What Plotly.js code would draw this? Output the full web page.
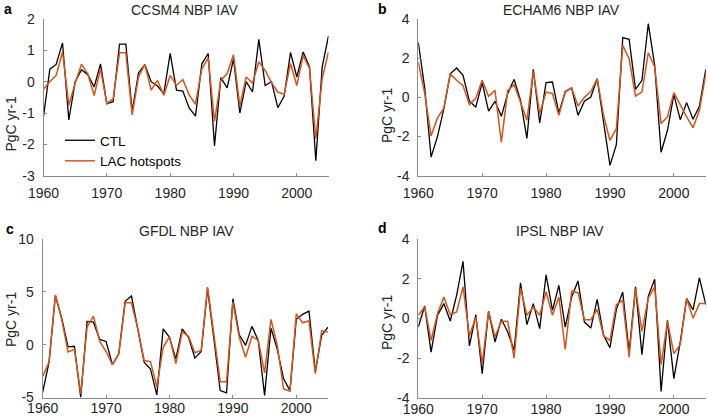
<!DOCTYPE html>
<html><head><meta charset="utf-8">
<script src="https://cdn.plot.ly/plotly-3.0.1.min.js"></script>
<style>html,body{margin:0;padding:0;background:#fff}#chart{width:708px;height:419px}</style>
</head><body><div id="chart"></div>
<script>
const years = [1960,1961,1962,1963,1964,1965,1966,1967,1968,1969,
  1970,1971,1972,1973,1974,1975,1976,1977,1978,1979,
  1980,1981,1982,1983,1984,1985,1986,1987,1988,1989,
  1990,1991,1992,1993,1994,1995,1996,1997,1998,1999,
  2000,2001,2002,2003,2004,2005];

const ccsm4CTL = [-1.12,0.4,0.55,1.24,-1.22,0.0,0.38,0.22,-0.17,0.57,
  -0.7,-0.64,1.2,1.2,-0.95,0.28,0.54,0.0,-0.14,-0.38,
  0.9,-0.27,-0.3,-0.84,-1.1,0.57,0.9,-2.05,0.13,-0.2,
  0.73,-1.0,0.0,-0.33,1.35,-0.12,0.0,-0.83,-0.46,0.93,
  0.15,0.95,0.47,-2.52,0.47,1.46];
const ccsm4LAC = [-0.24,0.0,0.2,0.95,-0.75,-0.05,0.56,0.24,-0.44,0.4,
  -0.7,-0.54,0.92,0.92,-1.06,0.15,0.55,-0.27,0.04,-0.43,
  0.2,-0.12,0.07,-0.42,-0.72,0.41,0.76,-1.27,0.04,0.26,
  0.86,-0.78,0.15,-0.04,0.63,0.36,-0.03,-0.33,-0.4,0.58,
  -0.12,0.84,0.42,-1.82,0.1,0.95];

const echamCTL = [2.8,0.5,-3.05,-2.0,-0.58,1.2,1.5,1.12,-0.2,-0.49,
  0.75,-0.7,-0.2,-0.97,0.2,0.92,-0.15,-2.1,1.43,-1.3,
  0.75,0.78,-0.8,0.3,0.48,-0.92,-0.2,0.02,0.95,-1.34,
  -3.47,-2.42,3.05,2.96,0.41,0.87,3.76,1.63,-2.8,-1.68,
  0.14,-1.14,-0.27,-1.12,-0.46,1.43];
const echamLAC = [1.8,0.2,-1.97,-1.05,-0.55,1.2,0.87,0.6,-0.37,-0.05,
  0.87,0.05,0.36,-2.3,0.35,0.65,-0.25,-1.17,1.33,-0.83,
  0.27,0.2,-0.92,0.27,0.48,-0.44,0.0,0.3,0.95,-0.92,
  -2.2,-1.6,2.65,1.97,0.07,0.27,2.28,1.55,-1.34,-1.0,
  0.24,-0.41,-1.0,-1.55,-0.66,1.2];

const gfdlCTL = [-4.5,-1.65,4.65,2.5,-0.2,-0.15,-5.0,2.2,2.13,0.5,
  0.3,-1.9,-0.87,4.1,4.6,1.5,-1.65,-2.3,-4.75,1.5,
  0.7,-1.35,1.5,0.7,-1.27,-0.65,5.3,0.55,-4.35,-4.57,
  4.35,0.94,-0.07,1.73,0.4,-4.8,1.57,-0.45,-3.23,-4.35,
  2.4,2.87,3.18,-2.53,0.87,1.66];
const gfdlLAC = [-3.0,-1.65,4.7,2.4,-0.7,-0.45,-4.65,1.65,2.7,0.3,
  -0.65,-1.9,-0.87,3.96,3.96,1.5,-1.5,-1.6,-4.0,-0.25,
  0.75,-1.8,1.2,0.8,-0.77,-0.55,5.45,0.87,-3.5,-3.5,
  4.03,0.7,-1.2,0.8,0.4,-2.67,2.4,-0.07,-4.2,-4.4,
  2.92,2.07,2.26,-2.75,1.31,1.2];

const ipslCTL = [-0.43,0.63,-1.69,0.16,0.75,-0.13,1.17,2.88,-1.38,0.19,
  -2.78,0.36,-1.18,-0.04,-0.68,-1.6,1.8,-0.31,0.75,-0.51,
  2.2,0.41,1.67,-0.43,1.08,1.89,-0.18,-0.48,0.96,-0.85,
  -1.47,0.46,1.33,-1.69,1.59,-1.82,1.13,1.97,-3.67,-0.09,
  -3.03,-1.18,1.0,0.44,2.04,0.7];
const ipslLAC = [0.16,0.58,-1.1,0.24,1.08,0.19,0.33,1.59,-0.88,0.08,
  -2.27,0.36,-0.93,-0.14,-0.14,-1.99,1.54,0.16,0.58,0.16,
  1.33,0.16,1.08,-1.55,1.37,1.3,-0.06,-0.06,0.46,-0.88,
  -1.1,0.7,0.91,-1.94,1.5,-0.65,1.03,1.59,-2.32,-0.14,
  -1.77,-1.32,1.0,0.02,0.75,0.75];

const panelTitles = ['CCSM4 NBP IAV','ECHAM6 NBP IAV','GFDL NBP IAV','IPSL NBP IAV'];
const panelLetters = ['a','b','c','d'];
const seriesNames = ['CTL','LAC hotspots'];
const yTitle = 'PgC yr-1';
const xTicks = [1960,1970,1980,1990,2000];
const yTicksA = [-3,-2,-1,0,1,2];
const yTicksB = [-4,-2,0,2,4];
const yTicksC = [-5,0,5,10];
const yTicksD = [-4,-2,0,2,4];

const W = 708, H = 419;
const px = x => x / W;
const py = y => 1 - y / H;

const ctlColor = '#000000', lacColor = '#D95319';
const panels = [
  {ctl: ccsm4CTL, lac: ccsm4LAC, ticks: yTicksA, range: [-3, 2], xd: [43.5, 328.5], yd: [19, 175.7], so: 4},
  {ctl: echamCTL, lac: echamLAC, ticks: yTicksB, range: [-4, 4], xd: [418.3, 705.8], yd: [19, 175.7], so: 4},
  {ctl: gfdlCTL, lac: gfdlLAC, ticks: yTicksC, range: [-5, 10], xd: [42.7, 328], yd: [239, 397.5], so: -2},
  {ctl: ipslCTL, lac: ipslLAC, ticks: yTicksD, range: [-4, 4], xd: [418.3, 705.8], yd: [239, 398], so: -2}
];

const font = 'Liberation Sans, Arial, Helvetica, sans-serif';
const data = [];
const layout = {
  width: W, height: H, autosize: false,
  margin: {l: 0, r: 0, t: 0, b: 0, pad: 0},
  paper_bgcolor: '#fff', plot_bgcolor: '#fff',
  font: {family: font, size: 13.5, color: '#262626'},
  showlegend: true,
  legend: {x: px(60), y: py(125), xanchor: 'left', yanchor: 'top',
    bgcolor: 'rgba(0,0,0,0)', font: {size: 13.5, color: '#000'}, tracegroupgap: 0},
  annotations: [], shapes: []
};

panels.forEach((p, i) => {
  const k = i === 0 ? '' : String(i + 1);
  const xa = 'x' + k, ya = 'y' + k;
  data.push({x: years, y: p.ctl, type: 'scatter', mode: 'lines', name: seriesNames[0],
    xaxis: xa, yaxis: ya, line: {color: ctlColor, width: 1.3}, showlegend: i === 0});
  data.push({x: years, y: p.lac, type: 'scatter', mode: 'lines', name: seriesNames[1],
    xaxis: xa, yaxis: ya, line: {color: lacColor, width: 1.5}, showlegend: i === 0});
  layout['xaxis' + k] = {
    domain: [px(p.xd[0]), px(p.xd[1])], anchor: ya, range: [1960, 2005],
    tickvals: xTicks, ticktext: xTicks.map(String), ticks: 'inside', ticklen: 3,
    tickcolor: '#8a8a8a', showline: true, linecolor: '#8a8a8a', linewidth: 1,
    showgrid: false, zeroline: false, ticklabelstandoff: p.so,
    tickfont: {size: 14, color: '#262626'}
  };
  layout['yaxis' + k] = {
    domain: [py(p.yd[1]), py(p.yd[0])], anchor: xa, range: p.range,
    tickvals: p.ticks, ticktext: p.ticks.map(String), ticks: 'inside', ticklen: 3,
    tickcolor: '#8a8a8a', showline: true, linecolor: '#8a8a8a', linewidth: 1,
    showgrid: false, zeroline: false, ticklabelstandoff: 5,
    tickfont: {size: 14, color: '#262626'}
  };
});

const titlePos = [[184.5, 10], [561, 10], [186, 231], [560, 231]];
const letterPos = [[8, 9], [382, 9], [10, 229], [382, 228]];
const yTitlePos = [[10.5, 124], [387, 116], [11, 320], [387, 323]];
panels.forEach((p, i) => {
  layout.annotations.push({text: panelTitles[i], x: px(titlePos[i][0]), y: py(titlePos[i][1]),
    xref: 'paper', yref: 'paper', xanchor: 'center', yanchor: 'middle', showarrow: false,
    font: {size: 14, color: '#262626'}});
  layout.annotations.push({text: '<b>' + panelLetters[i] + '</b>', x: px(letterPos[i][0]), y: py(letterPos[i][1]),
    xref: 'paper', yref: 'paper', xanchor: 'center', yanchor: 'middle', showarrow: false,
    font: {size: 14, color: '#000'}});
  layout.annotations.push({text: yTitle, x: px(yTitlePos[i][0]), y: py(yTitlePos[i][1]),
    xref: 'paper', yref: 'paper', xanchor: 'center', yanchor: 'middle', showarrow: false,
    textangle: -90, font: {size: 14, color: '#262626'}});
});

Plotly.newPlot('chart', data, layout, {staticPlot: true, displayModeBar: false});
</script></body></html>
